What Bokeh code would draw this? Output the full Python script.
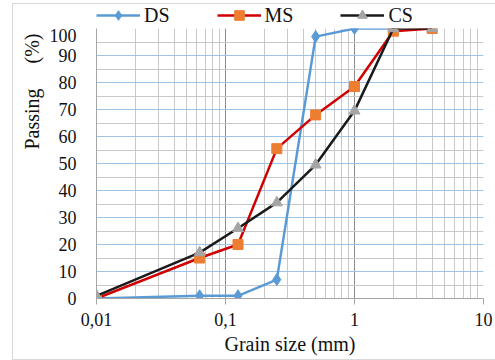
from bokeh.plotting import figure
from bokeh.layouts import column
from bokeh.models import (Legend, LegendItem, Title, FixedTicker, LogTicker,
                          CustomJSTickFormatter, Range1d)
from bokeh.embed import file_html
from bokeh.resources import INLINE

sizes = [0.01, 0.063, 0.125, 0.25, 0.5, 1, 2, 4]
ds_sizes = [0.01, 0.063, 0.125, 0.25, 0.5, 1, 2]
ds = [0, 1, 1, 7, 97, 100, 100]
ms = [0, 15, 20, 55.5, 68, 78.5, 99, 100]
cs = [1, 17, 26, 35.5, 49.5, 69.5, 100, 100]
y_ticks = [0, 10, 20, 30, 40, 50, 60, 70, 80, 90, 100]
y_minor = [5, 15, 25, 35, 45, 55, 65, 75, 85, 95]
series_names = ["DS", "MS", "CS"]

FONT = "Liberation Serif"
TXT = "#111111"
DS_C, MS_LINE, MS_MARK, CS_LINE, CS_MARK = "#5B9BD5", "#D00000", "#ED7D31", "#1A1A1A", "#A5A5A5"

p = figure(width=483, height=331, x_axis_type="log",
           x_range=Range1d(0.01, 10), y_range=Range1d(0, 100),
           output_backend="svg", toolbar_location=None,
           min_border_left=83, min_border_right=13,
           min_border_top=0, min_border_bottom=61)
p.outline_line_color = None

# grids
p.xgrid.grid_line_color = "#8C8C8C"
p.xgrid.minor_grid_line_color = "#C8C8C8"
p.ygrid.ticker = FixedTicker(ticks=y_ticks, minor_ticks=y_minor)
p.ygrid.grid_line_color = "#9DC3E6"
p.ygrid.grid_line_width = 1.2
p.ygrid.minor_grid_line_color = "#C8C8C8"

# axes
p.axis.major_label_text_font = FONT
p.axis.major_label_text_font_size = "18px"
p.axis.major_label_text_color = TXT

p.yaxis.ticker = FixedTicker(ticks=y_ticks, minor_ticks=y_minor)
p.yaxis.axis_line_color = "#A6A6A6"
p.yaxis.major_tick_line_color = None
p.yaxis.minor_tick_line_color = None
p.yaxis.major_label_standoff = 14

p.xaxis.ticker = LogTicker(num_minor_ticks=10)
p.xaxis.axis_line_color = "#A6A6A6"
p.xaxis.major_tick_line_color = "#A6A6A6"
p.xaxis.major_tick_out = 6
p.xaxis.major_tick_in = 0
p.xaxis.minor_tick_line_color = None
p.xaxis.major_label_standoff = 8
p.xaxis.formatter = CustomJSTickFormatter(code="return String(tick).replace('.', ',');")
p.xaxis.axis_label = "Grain size (mm)"
p.xaxis.axis_label_text_font = FONT
p.xaxis.axis_label_text_font_size = "20px"
p.xaxis.axis_label_text_font_style = "normal"
p.xaxis.axis_label_text_color = TXT
p.xaxis.axis_label_standoff = 4

ytitle = Title(text="Passing\u00a0\u00a0\u00a0\u00a0\u00a0(%)", align="right", offset=5,
               standoff=8, text_font=FONT, text_font_size="20px",
               text_font_style="normal", text_color=TXT)
p.add_layout(ytitle, "left")

# series
p.line(ds_sizes, ds, line_color=DS_C, line_width=2.5)
p.scatter(ds_sizes, ds, marker="diamond", size=12, fill_color=DS_C, line_color=DS_C)
p.line(sizes, ms, line_color=MS_LINE, line_width=2.5)
p.scatter(sizes, ms, marker="square", size=10, fill_color=MS_MARK, line_color=MS_MARK)
p.line(sizes, cs, line_color=CS_LINE, line_width=2.5)
p.scatter(sizes, cs, marker="triangle", size=11, fill_color=CS_MARK, line_color=CS_MARK)

# legend strip above the plot (its ranges keep its copies of the series out of view)
lf = figure(width=483, height=24, x_range=Range1d(-2, -1), y_range=Range1d(-2, -1),
            output_backend="svg", toolbar_location=None,
            x_axis_location=None, y_axis_location=None,
            min_border_left=0, min_border_right=0, min_border_top=0, min_border_bottom=0)
lf.outline_line_color = None
lf.grid.visible = False
specs = [(ds_sizes, ds, DS_C, DS_C, "diamond"),
         (sizes, ms, MS_LINE, MS_MARK, "square"),
         (sizes, cs, CS_LINE, CS_MARK, "triangle")]
items = []
for name, (xs, ys, lc, mc, mk) in zip(series_names, specs):
    r1 = lf.line(xs, ys, line_color=lc, line_width=2.5)
    r2 = lf.scatter(xs, ys, marker=mk, size=10, fill_color=mc, line_color=mc)
    items.append(LegendItem(label=name, renderers=[r1, r2]))
legend = Legend(items=items, orientation="horizontal", location=(0, 1),
                glyph_width=44, glyph_height=24, label_height=20,
                label_standoff=4, spacing=47, padding=0, margin=0,
                border_line_color=None, background_fill_alpha=0,
                label_text_font=FONT, label_text_font_size="20px",
                label_text_color=TXT)
lf.add_layout(legend, "center")

layout = column(lf, p, spacing=0, margin=(3, 0, 0, 12),
                styles={"border": "1px solid #D9D9D9"})

open("out.html", "w").write(file_html(layout, INLINE))
